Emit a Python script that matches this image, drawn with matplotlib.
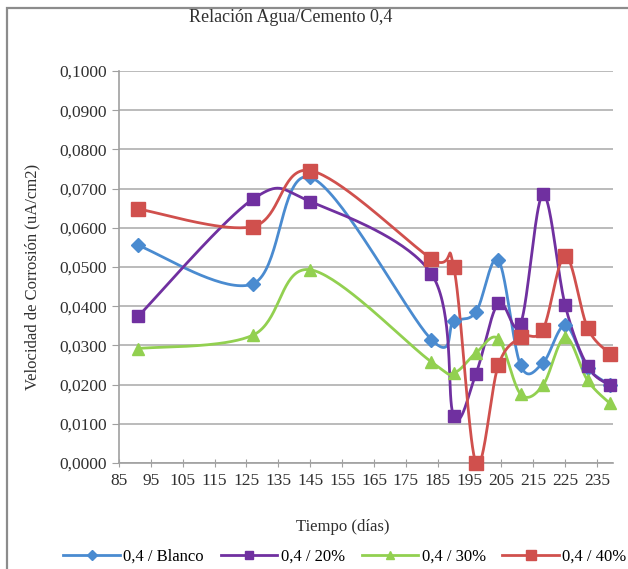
import numpy as np
import matplotlib
matplotlib.use("Agg")
import matplotlib.pyplot as plt
from matplotlib.patches import Rectangle

# Données
dias = [91, 127, 145, 183, 190, 197, 204, 211, 218, 225, 232, 239]
blanco = [0.0555, 0.0457, 0.0729, 0.0315, 0.0361, 0.0385, 0.0518, 0.0249, 0.0255, 0.0351, 0.0243, 0.0200]
p20 = [0.0374, 0.0673, 0.0667, 0.0483, 0.0120, 0.0228, 0.0408, 0.0355, 0.0685, 0.0402, 0.0247, 0.0198]
p30 = [0.0292, 0.0326, 0.0493, 0.0258, 0.0230, 0.0281, 0.0317, 0.0176, 0.0198, 0.0321, 0.0211, 0.0152]
p40 = [0.0648, 0.0603, 0.0746, 0.0521, 0.0501, 0.0000, 0.0249, 0.0321, 0.0340, 0.0529, 0.0345, 0.0279]

series = ["0,4 / Blanco", "0,4 / 20%", "0,4 / 30%", "0,4 / 40%"]
xticks = list(range(85, 236, 10))
yticks = [0.0, 0.01, 0.02, 0.03, 0.04, 0.05, 0.06, 0.07, 0.08, 0.09, 0.10]

couleurs = ["#4A8BD0", "#7030A0", "#92D050", "#D0504D"]
marqueurs = ["D", "s", "^", "s"]
tailles = [7.5, 9, 9, 10]

plt.rcParams["font.family"] = ["Liberation Serif", "DejaVu Serif"]


# Lissage façon Excel (courbes de Bézier type Catmull-Rom)
def lisser(x, y, n=40):
    x = np.asarray(x, float)
    y = np.asarray(y, float)
    xs, ys = [], []
    t = np.linspace(0, 1, n)
    for i in range(len(x) - 1):
        i0 = max(i - 1, 0)
        i3 = min(i + 2, len(x) - 1)
        p0 = np.array([x[i], y[i]])
        p3 = np.array([x[i + 1], y[i + 1]])
        c1 = p0 + (np.array([x[i + 1], y[i + 1]]) - np.array([x[i0], y[i0]])) / 6
        c2 = p3 - (np.array([x[i3], y[i3]]) - np.array([x[i], y[i]])) / 6
        pts = ((1 - t) ** 3)[:, None] * p0 + (3 * (1 - t) ** 2 * t)[:, None] * c1 \
            + (3 * (1 - t) * t ** 2)[:, None] * c2 + (t ** 3)[:, None] * p3
        xs.extend(pts[:, 0])
        ys.extend(pts[:, 1])
    return xs, ys


fig = plt.figure(figsize=(6.28, 5.69), dpi=100)
ax = fig.add_axes([119 / 628, 1 - 463 / 569, (613 - 119) / 628, (463 - 71) / 569])

for vals, nom, c, m, ms in zip([blanco, p20, p30, p40], series, couleurs, marqueurs, tailles):
    xs, ys = lisser(dias, vals)
    ax.plot(xs, ys, color=c, lw=2, zorder=3, clip_on=False)
    ax.plot(dias, vals, linestyle="none", marker=m, markersize=ms, color=c,
            markeredgecolor=c, zorder=4, clip_on=False)
    # entrée de légende
    ax.plot([], [], color=c, lw=2, marker=m, markersize=ms * 0.7, label=nom)

ax.set_xlim(85, 240)
ax.set_ylim(0, 0.1)
ax.set_xticks(xticks)
ax.set_yticks(yticks)
ax.set_yticklabels([f"{v:.4f}".replace(".", ",") for v in yticks])
ax.tick_params(axis="x", direction="inout", length=6, color="#A0A0A0", labelsize=12.5,
               labelcolor="#303030", pad=4)
ax.tick_params(axis="y", direction="out", length=5, color="#A0A0A0", labelsize=12.5,
               labelcolor="#303030", pad=4)
ax.yaxis.grid(True, color="#B5B5B5", lw=1.3)
ax.set_axisbelow(True)
for s in ["top", "right"]:
    ax.spines[s].set_visible(False)
for s in ["left", "bottom"]:
    ax.spines[s].set_color("#A0A0A0")
    ax.spines[s].set_linewidth(1.2)

fig.text(291 / 628, 1 - 17 / 569, "Relación Agua/Cemento 0,4", ha="center", va="center",
         fontsize=13, color="#303030")
fig.text(32 / 628, 1 - 277 / 569, "Velocidad de Corrosión (uA/cm2)", ha="center", va="center",
         rotation=90, fontsize=12, color="#303030")
fig.text(343 / 628, 1 - 527 / 569, "Tiempo (días)", ha="center", va="center",
         fontsize=12, color="#303030")

fig.legend(loc="center", bbox_to_anchor=(345 / 628, 1 - 557 / 569), ncol=4, frameon=False,
           fontsize=12, handlelength=3.4, columnspacing=1.0, handletextpad=0.2)

# cadre du graphique (seuls les bords gauche et haut sont visibles)
fig.patches.append(Rectangle((7 / 628, -0.1), 1.1, 0.1 + 1 - 8 / 569,
                             transform=fig.transFigure, fill=False, edgecolor="#8C8C8C", lw=1.6))

fig.savefig("out.png", dpi=100)
